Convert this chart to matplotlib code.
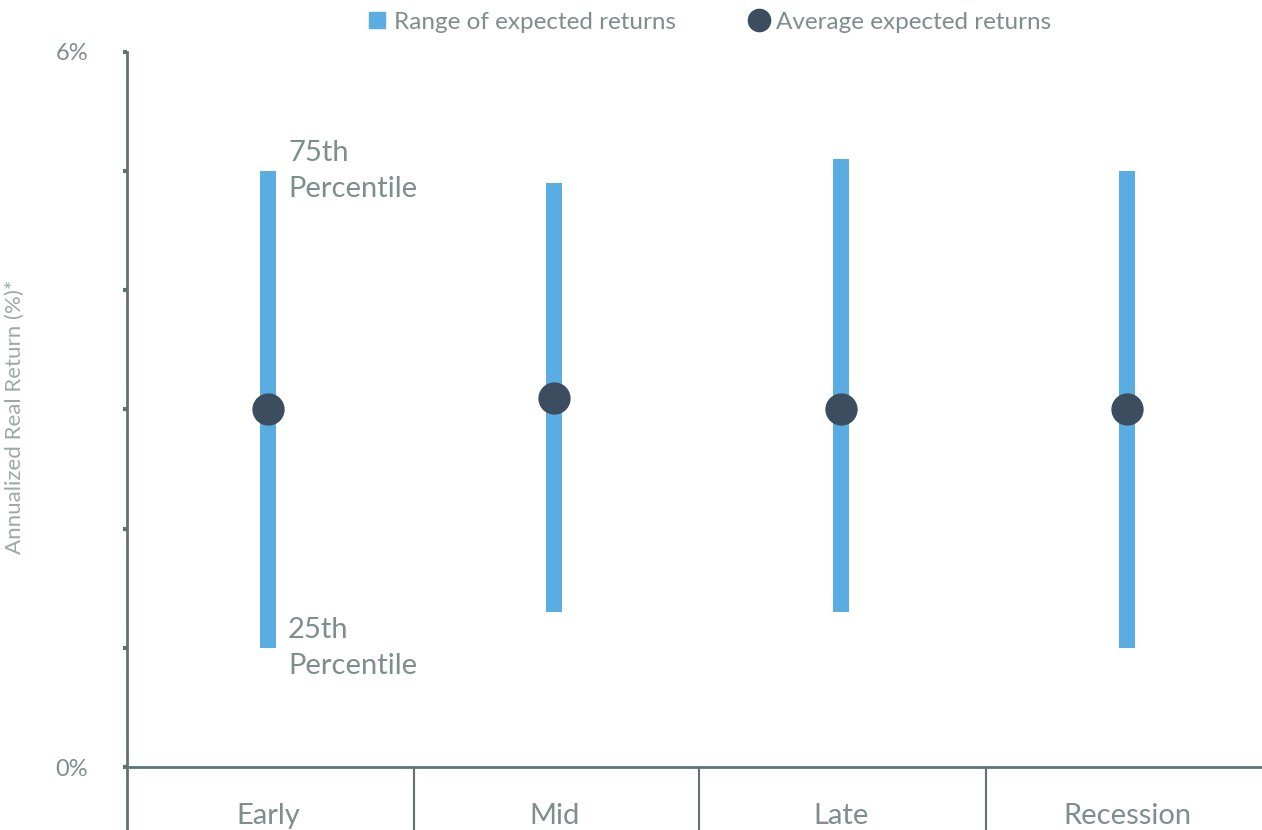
import matplotlib
matplotlib.use("Agg")
import matplotlib.pyplot as plt
from matplotlib.lines import Line2D

plt.rcParams['font.family'] = ['Lato', 'DejaVu Sans']

# expected annualized real returns by business cycle phase
phases = ["Early", "Mid", "Late", "Recession"]
p25 = [1.0, 1.3, 1.3, 1.0]
p75 = [5.0, 4.9, 5.1, 5.0]
avg = [3.0, 3.1, 3.0, 3.0]
yticks = [0, 1, 2, 3, 4, 5, 6]
ytick_labels = ["0%", "", "", "", "", "", "6%"]

bar_blue = "#5aade3"
dot_navy = "#3b4d5e"
axis_col = "#5f7372"
text_col = "#7d8e8c"

fig = plt.figure(figsize=(12.62, 8.30), dpi=100)
ax = fig.add_axes([127 / 1262, 63 / 830, 1135 / 1262, 715 / 830])

x = list(range(len(phases)))
ax.bar(x, [t - b for t, b in zip(p75, p25)], bottom=p25, width=0.056,
       color=bar_blue, zorder=2)
ax.scatter(x, avg, s=540, color=dot_navy, zorder=3, linewidths=0)

ax.set_xlim(-0.4925, 3.4715)
ax.set_ylim(0, 6)

for side in ("top", "right", "bottom"):
    ax.spines[side].set_visible(False)
ax.spines["left"].set_color(axis_col)
ax.spines["left"].set_linewidth(2)
ax.spines["left"].set_bounds(-63 / 715 * 6, 6)

# baseline and category separators
ax.axhline(0, color=axis_col, lw=2, zorder=1, clip_on=False)
for xs in [0.51, 1.505, 2.508]:
    ax.plot([xs, xs], [0, -63 / 715 * 6], color=axis_col, lw=1.5, clip_on=False)

ax.set_xticks(x)
ax.set_xticklabels(phases, fontsize=21, color=text_col)
ax.tick_params(axis="x", length=0, pad=26)

ax.set_yticks(yticks)
ax.set_yticklabels(ytick_labels, fontsize=17, color=text_col)
ax.tick_params(axis="y", length=3, width=3, color=axis_col, pad=25)

ax.set_ylabel("Annualized Real Return (%)*", fontsize=16, color="#9aa9a7")
ax.yaxis.set_label_coords((25 - 127) / 1135, 0.49)

# percentile callouts next to the first bar
for val, lab in [(p75[0], "75th\nPercentile"), (p25[0], "25th\nPercentile")]:
    ax.annotate(lab, (x[0], val), xytext=(20, 0),
                textcoords="offset pixels", va="center", ha="left",
                fontsize=21, color=text_col, linespacing=1.45)

handles = [
    Line2D([], [], marker="s", color=bar_blue, linestyle="none", markersize=12),
    Line2D([], [], marker="o", color=dot_navy, linestyle="none", markersize=16),
]
leg = fig.legend(handles, ["Range of expected returns", "Average expected returns"],
                 loc="center", bbox_to_anchor=(708 / 1262, 1 - 22 / 830), ncol=2,
                 frameon=False, fontsize=17.5, handletextpad=0.2, columnspacing=2.9,
                 handlelength=1.0)
for t in leg.get_texts():
    t.set_color(text_col)

fig.savefig("out.png", dpi=100)
